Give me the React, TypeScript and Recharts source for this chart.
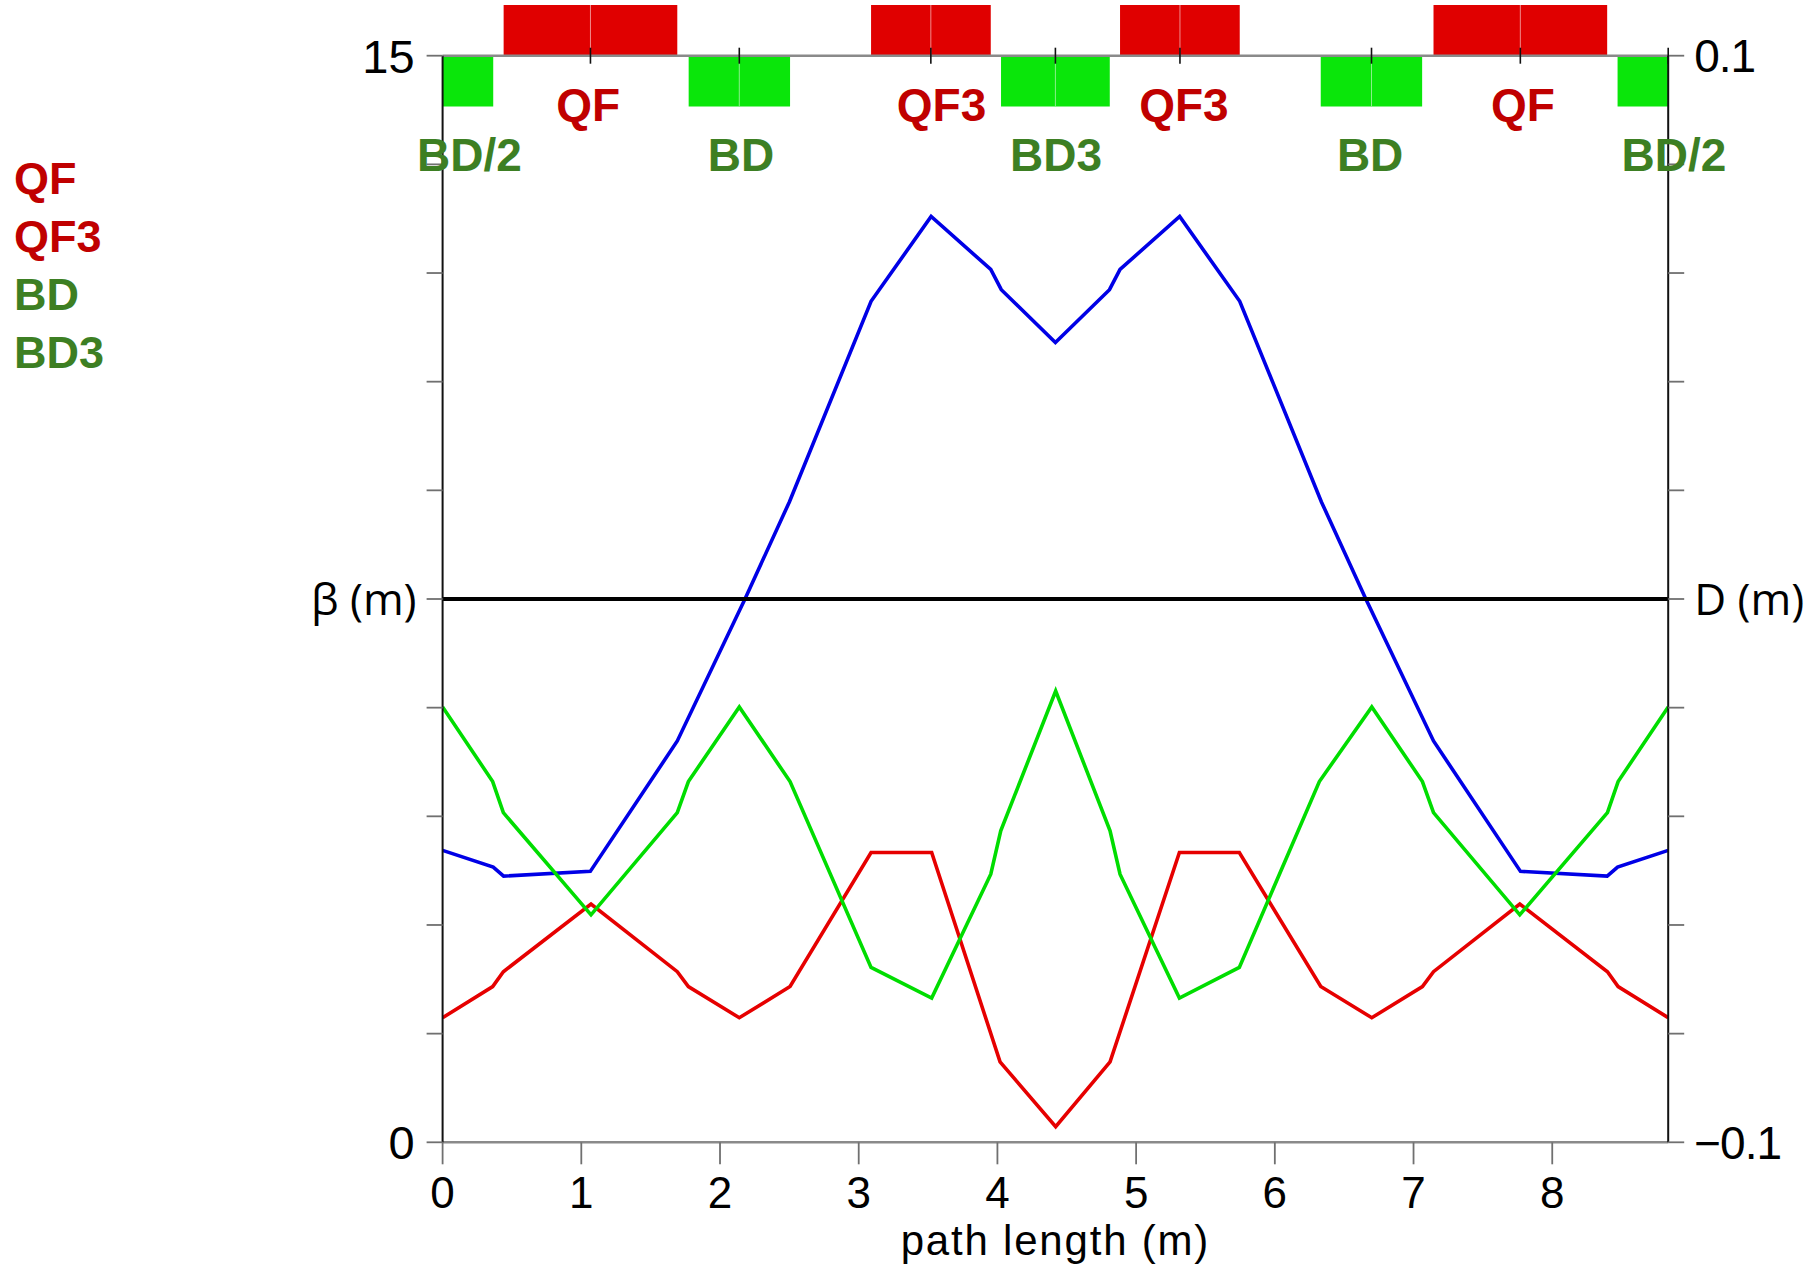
import React from 'react';
import {
  LineChart,
  Line,
  XAxis,
  YAxis,
  ReferenceArea,
  ReferenceLine,
  ReferenceDot,
  Label,
} from 'recharts';

// ---- lattice data -------------------------------------------------------
const cellLength = 8.836;

const pathTicks = [0, 1, 2, 3, 4, 5, 6, 7, 8];
const betaTicks = [0, 1.5, 3, 4.5, 6, 7.5, 9, 10.5, 12, 13.5, 15];
const dispTicks = [-0.1, -0.08, -0.06, -0.04, -0.02, 0, 0.02, 0.04, 0.06, 0.08, 0.1];

// magnet layout along the cell
const magnetNames = ['BD/2', 'QF', 'BD', 'QF3', 'BD3', 'QF3', 'BD', 'QF', 'BD/2'];
const magnetIsQuad = [false, true, false, true, false, true, false, true, false];
const magnetStart = [0, 0.44, 1.774, 3.089, 4.026, 4.884, 6.331, 7.144, 8.471];
const magnetEnd = [0.365, 1.692, 2.505, 3.952, 4.81, 5.747, 7.062, 8.396, 8.836];
const magnetSplit = [null, 1.066, 2.139, 3.52, 4.418, 5.316, 6.697, 7.77, null];
const magnetLabelS = [0.194, 1.049, 2.151, 3.597, 4.422, 5.345, 6.687, 7.789, 8.877];
const topTicks = [1.066, 2.139, 3.52, 4.418, 5.316, 6.697, 7.77, 8.836];

// optics functions
const blueS = [0, 0.365, 0.44, 1.065, 1.692, 2.18, 2.5, 3.089, 3.522, 3.952, 4.028, 4.418, 4.808, 4.884, 5.314, 5.747, 6.336, 6.656, 7.144, 7.771, 8.396, 8.471, 8.836];
const blueBeta = [4.03, 3.8, 3.675, 3.74, 5.54, 7.5, 8.84, 11.61, 12.78, 12.05, 11.77, 11.04, 11.77, 12.05, 12.78, 11.61, 8.84, 7.5, 5.54, 3.74, 3.675, 3.8, 4.03];

const redS = [0, 0.361, 0.438, 1.07, 1.692, 1.772, 2.139, 2.505, 3.089, 3.526, 4.019, 4.42, 4.812, 5.312, 5.744, 6.331, 6.699, 7.064, 7.144, 7.766, 8.398, 8.475, 8.836];
const redBeta = [1.72, 2.15, 2.355, 3.29, 2.355, 2.15, 1.72, 2.15, 4.0, 4.0, 1.11, 0.215, 1.11, 4.0, 4.0, 2.15, 1.72, 2.15, 2.355, 3.29, 2.355, 2.15, 1.72];

const greenS = [0, 0.361, 0.438, 1.07, 1.692, 1.772, 2.139, 2.505, 3.089, 3.526, 3.952, 4.024, 4.42, 4.812, 4.884, 5.312, 5.744, 6.321, 6.699, 7.064, 7.144, 7.766, 8.398, 8.475, 8.836];
const greenBeta = [6.01, 4.98, 4.55, 3.14, 4.55, 4.98, 6.01, 4.98, 2.415, 1.99, 3.7, 4.3, 6.23, 4.3, 3.7, 1.99, 2.415, 4.98, 6.01, 4.98, 4.55, 3.14, 4.55, 4.98, 6.01];

const dispS = [0, 8.836];
const dispValue = [0, 0];

const legendNames = ['QF', 'QF3', 'BD', 'BD3'];
const legendIsQuad = [true, true, false, false];

// ---- styling -------------------------------------------------------------
const W = 1819;
const H = 1264;
const NUM_FONT = "'Liberation Sans', Arial, sans-serif";
const BOLD_FONT = "'Liberation Sans', Arial, sans-serif";
const UNIT_FONT = "'Open Sans', 'Noto Sans', sans-serif";
const QUAD_FILL = '#e00000';
const BEND_FILL = '#0ae60a';
const QUAD_TEXT = '#c00000';
const BEND_TEXT = '#3d7f23';
const TICK_GREY = '#707070';
const FRAME_GREY = '#8a8a8a';

const QUAD_TOP = 15.7;
const BEND_BOTTOM = 14.3;
const QUAD_LABEL_Y = 14.33;
const BEND_LABEL_Y = 13.64;

const toSeries = (s: number[], v: number[]) => s.map((x, i) => ({ s: x, v: v[i] }));
const blueData = toSeries(blueS, blueBeta);
const redData = toSeries(redS, redBeta);
const greenData = toSeries(greenS, greenBeta);
const dispData = toSeries(dispS, dispValue);

const near = (a: number, b: number) => Math.abs(a - b) < 1e-6;

const PathTick = (props: any) => {
  const { x, y, payload } = props;
  return (
    <text x={x} y={y} dy={43.7} textAnchor="middle" fontSize={44} fontFamily={NUM_FONT} fill="#000">
      {payload.value}
    </text>
  );
};

const TopTick = (props: any) => {
  const { x, y } = props;
  return <line x1={x} x2={x} y1={y - 8} y2={y + 8} stroke="#111" strokeWidth={1.6} />;
};

const BetaTick = (props: any) => {
  const { x, y, payload } = props;
  const v = payload.value;
  if (near(v, 7.5)) {
    return (
      <text x={x + 2} y={y} dy="0.36em" textAnchor="end" fontSize={44} fontFamily={UNIT_FONT} fill="#000">
        β (m)
      </text>
    );
  }
  if (near(v, 0) || near(v, 15)) {
    return (
      <text x={x} y={y} dy="0.36em" textAnchor="end" fontSize={47} fontFamily={NUM_FONT} fill="#000">
        {near(v, 0) ? '0' : '15'}
      </text>
    );
  }
  return <g />;
};

const DispTick = (props: any) => {
  const { x, y, payload } = props;
  const v = payload.value;
  if (near(v, 0)) {
    return (
      <text x={x} y={y} dy="0.36em" textAnchor="start" fontSize={44} fontFamily={UNIT_FONT} fill="#000">
        D (m)
      </text>
    );
  }
  if (near(v, 0.1) || near(v, -0.1)) {
    return (
      <text x={x} y={y} dy="0.36em" textAnchor="start" fontSize={46} fontFamily={NUM_FONT} fill="#000" letterSpacing={-1}>
        {v > 0 ? '0.1' : '\u22120.1'}
      </text>
    );
  }
  return <g />;
};

export default function App() {
  return (
    <div style={{ position: 'absolute', left: 0, top: 0, width: W, height: H, background: '#fff' }}>
      <LineChart width={W} height={H} margin={{ top: 0, right: 0, bottom: 0, left: 0 }}>
        <XAxis
          xAxisId="s"
          dataKey="s"
          type="number"
          orientation="bottom"
          domain={[0, cellLength]}
          allowDataOverflow
          ticks={pathTicks}
          interval={0}
          height={121.7}
          axisLine={{ stroke: FRAME_GREY, strokeWidth: 2.5 }}
          tickLine={{ stroke: TICK_GREY, strokeWidth: 1.8 }}
          tickSize={22}
          tickMargin={0}
          tick={<PathTick />}
        >
          <Label
            value="path length (m)"
            position="insideBottom"
            offset={9}
            fontSize={42}
            letterSpacing={1.8}
            fontFamily={BOLD_FONT}
            fill="#000"
          />
        </XAxis>
        <XAxis
          xAxisId="top"
          dataKey="s"
          type="number"
          orientation="top"
          domain={[0, cellLength]}
          allowDataOverflow
          ticks={topTicks}
          interval={0}
          height={55.7}
          axisLine={{ stroke: FRAME_GREY, strokeWidth: 2.5 }}
          tickLine={false}
          tickSize={0}
          tickMargin={0}
          tick={<TopTick />}
        />
        <YAxis
          yAxisId="beta"
          orientation="left"
          type="number"
          domain={[0, 15]}
          allowDataOverflow
          ticks={betaTicks}
          interval={0}
          width={442.6}
          axisLine={{ stroke: '#111', strokeWidth: 2 }}
          tickLine={{ stroke: TICK_GREY, strokeWidth: 1.8 }}
          tickSize={16}
          tickMargin={12}
          tick={<BetaTick />}
        />
        <YAxis
          yAxisId="disp"
          orientation="right"
          type="number"
          domain={[-0.1, 0.1]}
          allowDataOverflow
          ticks={dispTicks}
          interval={0}
          width={150.8}
          axisLine={{ stroke: '#111', strokeWidth: 2 }}
          tickLine={{ stroke: TICK_GREY, strokeWidth: 1.8 }}
          tickSize={16}
          tickMargin={10}
          tick={<DispTick />}
        />

        {magnetNames.map((name, i) => (
          <ReferenceArea
            key={`box-${i}`}
            xAxisId="s"
            yAxisId="beta"
            x1={magnetStart[i]}
            x2={magnetEnd[i]}
            y1={magnetIsQuad[i] ? 15 : BEND_BOTTOM}
            y2={magnetIsQuad[i] ? QUAD_TOP : 15}
            fill={magnetIsQuad[i] ? QUAD_FILL : BEND_FILL}
            fillOpacity={1}
            stroke="none"
            ifOverflow="visible"
          />
        ))}
        {magnetNames.map((name, i) =>
          magnetSplit[i] === null ? null : (
            <ReferenceLine
              key={`split-${i}`}
              xAxisId="s"
              yAxisId="beta"
              segment={[
                { x: magnetSplit[i] as number, y: magnetIsQuad[i] ? 15 : BEND_BOTTOM },
                { x: magnetSplit[i] as number, y: magnetIsQuad[i] ? QUAD_TOP : 15 },
              ]}
              stroke={magnetIsQuad[i] ? '#f08a8a' : '#8af08a'}
              strokeWidth={1}
              ifOverflow="visible"
            />
          )
        )}
        {magnetNames.map((name, i) => (
          <ReferenceDot
            key={`label-${i}`}
            xAxisId="s"
            yAxisId="beta"
            x={magnetLabelS[i]}
            y={magnetIsQuad[i] ? QUAD_LABEL_Y : BEND_LABEL_Y}
            r={0}
            fill="none"
            stroke="none"
            ifOverflow="visible"
            label={{
              value: name,
              position: 'center',
              fill: magnetIsQuad[i] ? QUAD_TEXT : BEND_TEXT,
              fontSize: 46,
              fontWeight: 700,
              fontFamily: BOLD_FONT,
            }}
          />
        ))}

        <Line xAxisId="s" yAxisId="beta" data={blueData} dataKey="v" stroke="#0000e6" strokeWidth={3.6} dot={false} isAnimationActive={false} />
        <Line xAxisId="s" yAxisId="beta" data={redData} dataKey="v" stroke="#e60000" strokeWidth={3.6} dot={false} isAnimationActive={false} />
        <Line xAxisId="s" yAxisId="beta" data={greenData} dataKey="v" stroke="#00dd00" strokeWidth={3.6} dot={false} isAnimationActive={false} />
        <Line xAxisId="s" yAxisId="disp" data={dispData} dataKey="v" stroke="#000" strokeWidth={4} dot={false} isAnimationActive={false} />
      </LineChart>

      <svg width={W} height={H} style={{ position: 'absolute', left: 0, top: 0, pointerEvents: 'none' }}>
        {legendNames.map((name, i) => (
          <text
            key={name}
            x={14}
            y={194 + i * 58}
            fontSize={45}
            fontWeight={700}
            fontFamily={BOLD_FONT}
            fill={legendIsQuad[i] ? QUAD_TEXT : BEND_TEXT}
          >
            {name}
          </text>
        ))}
      </svg>
    </div>
  );
}
